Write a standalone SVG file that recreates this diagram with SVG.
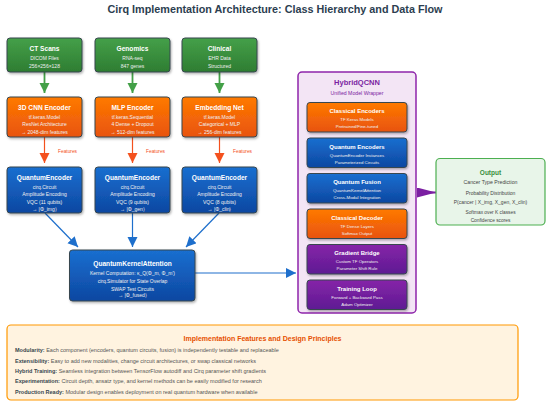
<svg xmlns="http://www.w3.org/2000/svg" width="550" height="405" viewBox="0 0 550 405">
<defs>
<linearGradient id="gG" x1="0" y1="0" x2="0" y2="1"><stop offset="0" stop-color="#45a049"/><stop offset="1" stop-color="#2e7d32"/></linearGradient>
<linearGradient id="gO" x1="0" y1="0" x2="0" y2="1"><stop offset="0" stop-color="#ff7a00"/><stop offset="1" stop-color="#e8530e"/></linearGradient>
<linearGradient id="gB" x1="0" y1="0" x2="0" y2="1"><stop offset="0" stop-color="#1a6fd0"/><stop offset="1" stop-color="#0d47a1"/></linearGradient>
<linearGradient id="gP" x1="0" y1="0" x2="0" y2="1"><stop offset="0" stop-color="#8624a8"/><stop offset="1" stop-color="#5e1b93"/></linearGradient>
<filter id="sh" x="-10%" y="-10%" width="130%" height="140%"><feDropShadow dx="1" dy="1.5" stdDeviation="1.2" flood-color="#000" flood-opacity="0.3"/></filter>
<marker id="aG" markerUnits="userSpaceOnUse" markerWidth="10" markerHeight="12" refX="10" refY="5" orient="auto"><path d="M0,0 L10,5 L0,10 Z" fill="#43a047"/></marker>
<marker id="aO" markerUnits="userSpaceOnUse" markerWidth="10" markerHeight="12" refX="10" refY="5" orient="auto"><path d="M0,0 L10,5 L0,10 Z" fill="#f4511e"/></marker>
<marker id="aB" markerUnits="userSpaceOnUse" markerWidth="10" markerHeight="12" refX="10" refY="5" orient="auto"><path d="M0,0 L10,5 L0,10 Z" fill="#1e6fcc"/></marker>
<marker id="aP" markerUnits="userSpaceOnUse" markerWidth="20" markerHeight="12" refX="19" refY="5" orient="auto"><path d="M0,0 L19,5 L0,10 Z" fill="#7b1fa2"/></marker>
</defs>
<style>
text{font-family:"Liberation Sans",Arial,sans-serif;text-anchor:middle}
.box{stroke:#37474f;stroke-width:1;filter:url(#sh)}
.t{font-weight:bold;font-size:6.6px;fill:#fff}
.s{font-size:5px;fill:#f0f0f0}
.it{font-weight:bold;font-size:6px;fill:#fff}
.is{font-size:4.4px;fill:#f0f0f0}
.feat{font-size:4.8px;fill:#f4511e}
.bl{text-anchor:start;font-size:5.5px;fill:#555}
.bl tspan.b{font-weight:bold;fill:#37474f}
</style>
<rect width="550" height="405" fill="#fff"/>
<text x="275" y="13.3" font-size="10.8" font-weight="bold" fill="#2c3e50">Cirq Implementation Architecture: Class Hierarchy and Data Flow</text>

<g id="connectors" fill="none">
<path d="M44.5,72 V93" stroke="#43a047" stroke-width="1.8" marker-end="url(#aG)"/>
<path d="M132.5,72 V93" stroke="#43a047" stroke-width="1.8" marker-end="url(#aG)"/>
<path d="M219.5,72 V93" stroke="#43a047" stroke-width="1.8" marker-end="url(#aG)"/>
<path d="M44.5,137 V163" stroke="#f4511e" stroke-width="1.2" marker-end="url(#aO)"/>
<path d="M132.5,137 V163" stroke="#f4511e" stroke-width="1.2" marker-end="url(#aO)"/>
<path d="M219.5,137 V163" stroke="#f4511e" stroke-width="1.2" marker-end="url(#aO)"/>
<path d="M45,213 L78,247" stroke="#1e6fcc" stroke-width="1.2" marker-end="url(#aB)"/>
<path d="M132.5,213 V247" stroke="#1e6fcc" stroke-width="1.2" marker-end="url(#aB)"/>
<path d="M219,213 L186,247" stroke="#1e6fcc" stroke-width="1.2" marker-end="url(#aB)"/>
<path d="M195,273 H296" stroke="#1e6fcc" stroke-width="1.2" marker-end="url(#aB)"/>
<path d="M417,192.5 H436" stroke="#7b1fa2" stroke-width="2" marker-end="url(#aP)"/>
<text class="feat" x="67.5" y="152.5">Features</text>
<text class="feat" x="155.5" y="152.5">Features</text>
<text class="feat" x="242.5" y="152.5">Features</text>
</g>

<g id="ct-scans">
<rect class="box" x="7" y="38" width="75" height="34" rx="3" fill="url(#gG)"/>
<text class="t" x="44.5" y="51">CT Scans</text>
<text class="s" x="44.5" y="60">DICOM Files</text>
<text class="s" x="44.5" y="67.5">256×256×128</text>
</g>
<g id="genomics">
<rect class="box" x="95" y="38" width="75" height="34" rx="3" fill="url(#gG)"/>
<text class="t" x="132.5" y="51">Genomics</text>
<text class="s" x="132.5" y="60">RNA-seq</text>
<text class="s" x="132.5" y="67.5">847 genes</text>
</g>
<g id="clinical">
<rect class="box" x="182" y="38" width="75" height="34" rx="3" fill="url(#gG)"/>
<text class="t" x="219.5" y="51">Clinical</text>
<text class="s" x="219.5" y="60">EHR Data</text>
<text class="s" x="219.5" y="67.5">Structured</text>
</g>

<g id="cnn-encoder">
<rect class="box" x="7" y="97" width="75" height="40" rx="3" fill="url(#gO)"/>
<text class="t" x="44.5" y="109.5">3D CNN Encoder</text>
<text class="s" x="44.5" y="118.5">tf.keras.Model</text>
<text class="s" x="44.5" y="126">ResNet Architecture</text>
<text class="s" x="44.5" y="133.5">→ 2048-dim features</text>
</g>
<g id="mlp-encoder">
<rect class="box" x="95" y="97" width="75" height="40" rx="3" fill="url(#gO)"/>
<text class="t" x="132.5" y="109.5">MLP Encoder</text>
<text class="s" x="132.5" y="118.5">tf.keras.Sequential</text>
<text class="s" x="132.5" y="126">4 Dense + Dropout</text>
<text class="s" x="132.5" y="133.5">→ 512-dim features</text>
</g>
<g id="embedding-net">
<rect class="box" x="182" y="97" width="75" height="40" rx="3" fill="url(#gO)"/>
<text class="t" x="219.5" y="109.5">Embedding Net</text>
<text class="s" x="219.5" y="118.5">tf.keras.Model</text>
<text class="s" x="219.5" y="126">Categorical + MLP</text>
<text class="s" x="219.5" y="133.5">→ 256-dim features</text>
</g>

<g id="qe-img">
<rect class="box" x="7" y="167" width="75" height="46" rx="3" fill="url(#gB)"/>
<text class="t" x="44.5" y="180">QuantumEncoder</text>
<text class="s" x="44.5" y="188.5">cirq.Circuit</text>
<text class="s" x="44.5" y="196">Amplitude Encoding</text>
<text class="s" x="44.5" y="203.5">VQC (11 qubits)</text>
<text class="s" x="44.5" y="210.5">→ |Φ_img⟩</text>
</g>
<g id="qe-gen">
<rect class="box" x="95" y="167" width="75" height="46" rx="3" fill="url(#gB)"/>
<text class="t" x="132.5" y="180">QuantumEncoder</text>
<text class="s" x="132.5" y="188.5">cirq.Circuit</text>
<text class="s" x="132.5" y="196">Amplitude Encoding</text>
<text class="s" x="132.5" y="203.5">VQC (9 qubits)</text>
<text class="s" x="132.5" y="210.5">→ |Φ_gen⟩</text>
</g>
<g id="qe-clin">
<rect class="box" x="182" y="167" width="75" height="46" rx="3" fill="url(#gB)"/>
<text class="t" x="219.5" y="180">QuantumEncoder</text>
<text class="s" x="219.5" y="188.5">cirq.Circuit</text>
<text class="s" x="219.5" y="196">Amplitude Encoding</text>
<text class="s" x="219.5" y="203.5">VQC (8 qubits)</text>
<text class="s" x="219.5" y="210.5">→ |Φ_clin⟩</text>
</g>

<g id="qka">
<rect class="box" x="69.5" y="250" width="125.5" height="51" rx="3" fill="url(#gB)"/>
<text class="t" x="132.5" y="265.5">QuantumKernelAttention</text>
<text class="s" x="132.5" y="275">Kernel Computation: κ_Q(Φ_m, Φ_m')</text>
<text class="s" x="132.5" y="282.8">cirq.Simulator for State Overlap</text>
<text class="s" x="132.5" y="291">SWAP Test Circuits</text>
<text class="s" x="132.5" y="297">→ |Φ_fused⟩</text>
</g>

<g id="hybridqcnn">
<rect x="298" y="72" width="118" height="241" rx="4" fill="#f3e5f5" stroke="#8e24aa" stroke-width="1.5"/>
<text x="357" y="84.5" font-size="7.5" font-weight="bold" fill="#7b1fa2">HybridQCNN</text>
<text x="357" y="94.5" font-size="5.2" fill="#7b1fa2">Unified Model Wrapper</text>
</g>
<g id="classical-encoders">
<rect class="box" x="307" y="102.5" width="100" height="29.5" rx="3" fill="url(#gO)"/>
<text class="it" x="357" y="113">Classical Encoders</text>
<text class="is" x="357" y="121.3">TF Keras Models</text>
<text class="is" x="357" y="128">Pretrained/Fine-tuned</text>
</g>
<g id="quantum-encoders">
<rect class="box" x="307" y="138" width="100" height="29.5" rx="3" fill="url(#gB)"/>
<text class="it" x="357" y="148.5">Quantum Encoders</text>
<text class="is" x="357" y="156.8">QuantumEncoder Instances</text>
<text class="is" x="357" y="163.5">Parameterized Circuits</text>
</g>
<g id="quantum-fusion">
<rect class="box" x="307" y="173.5" width="100" height="29.5" rx="3" fill="url(#gB)"/>
<text class="it" x="357" y="184">Quantum Fusion</text>
<text class="is" x="357" y="192.3">QuantumKernelAttention</text>
<text class="is" x="357" y="199">Cross-Modal Integration</text>
</g>
<g id="classical-decoder">
<rect class="box" x="307" y="209" width="100" height="29.5" rx="3" fill="url(#gO)"/>
<text class="it" x="357" y="219.5">Classical Decoder</text>
<text class="is" x="357" y="227.8">TF Dense Layers</text>
<text class="is" x="357" y="234.5">Softmax Output</text>
</g>
<g id="gradient-bridge">
<rect class="box" x="307" y="244.5" width="100" height="29.5" rx="3" fill="url(#gP)"/>
<text class="it" x="357" y="255">Gradient Bridge</text>
<text class="is" x="357" y="263.3">Custom TF Operators</text>
<text class="is" x="357" y="270">Parameter Shift Rule</text>
</g>
<g id="training-loop">
<rect class="box" x="307" y="280" width="100" height="29.5" rx="3" fill="url(#gP)"/>
<text class="it" x="357" y="290.5">Training Loop</text>
<text class="is" x="357" y="298.8">Forward + Backward Pass</text>
<text class="is" x="357" y="305.5">Adam Optimizer</text>
</g>

<g id="output">
<rect x="436" y="158.5" width="109" height="66.5" rx="4" fill="#e8f5e9" stroke="#4caf50" stroke-width="1.2"/>
<text x="490.5" y="174.5" font-size="6.5" font-weight="bold" fill="#388e3c">Output</text>
<text x="490.5" y="184" font-size="5.2" fill="#444">Cancer Type Prediction</text>
<text x="490.5" y="194.5" font-size="5" fill="#444">Probability Distribution</text>
<text x="490.5" y="203.8" font-size="5" fill="#444">P(cancer | X_img, X_gen, X_clin)</text>
<text x="490.5" y="213.5" font-size="4.8" fill="#444">Softmax over K classes</text>
<text x="490.5" y="221.8" font-size="4.8" fill="#444">Confidence scores</text>
</g>

<g id="principles">
<rect x="7" y="325" width="511" height="75" rx="4" fill="#fff3e0" stroke="#ff9800" stroke-width="1.2"/>
<text x="262.5" y="340.5" font-size="7" font-weight="bold" fill="#e65100">Implementation Features and Design Principles</text>
<text class="bl" x="15" y="352"><tspan class="b">Modularity:</tspan> Each component (encoders, quantum circuits, fusion) is independently testable and replaceable</text>
<text class="bl" x="15" y="362.5"><tspan class="b">Extensibility:</tspan> Easy to add new modalities, change circuit architectures, or swap classical networks</text>
<text class="bl" x="15" y="373"><tspan class="b">Hybrid Training:</tspan> Seamless integration between TensorFlow autodiff and Cirq parameter shift gradients</text>
<text class="bl" x="15" y="383.3"><tspan class="b">Experimentation:</tspan> Circuit depth, ansatz type, and kernel methods can be easily modified for research</text>
<text class="bl" x="15" y="393.8"><tspan class="b">Production Ready:</tspan> Modular design enables deployment on real quantum hardware when available</text>
</g>
</svg>
